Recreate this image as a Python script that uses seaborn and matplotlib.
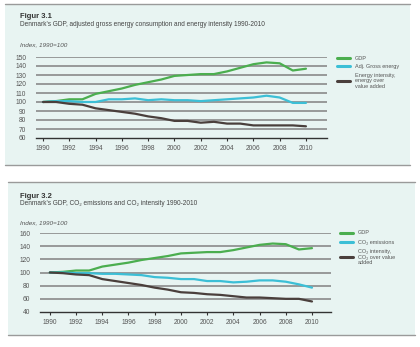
import numpy as np
import pandas as pd
import matplotlib
matplotlib.use("Agg")
import matplotlib.pyplot as plt
import seaborn as sns
from matplotlib.patches import Rectangle
from matplotlib.lines import Line2D

sns.set_style("white")
plt.rcParams['font.family'] = ['Liberation Sans', 'DejaVu Sans']

years = list(range(1990, 2011))
gdp = [100, 101, 103, 103, 109, 112, 115, 119, 122, 125, 129, 130, 131, 131, 134, 138, 142, 144, 143, 135, 137]
adj_gross_energy = [100, 101, 101, 100, 100, 103, 103, 104, 102, 103, 102, 102, 101, 102, 103, 104, 105, 107, 105, 99, 99]
energy_intensity = [100, 100, 98, 97, 93, 91, 89, 87, 84, 82, 79, 79, 77, 78, 76, 76, 74, 74, 74, 74, 73]
co2_emissions = [100, 100, 99, 99, 98, 98, 97, 96, 93, 92, 90, 90, 87, 87, 85, 86, 88, 88, 86, 82, 77]
co2_intensity = [100, 99, 97, 96, 90, 87, 84, 81, 77, 74, 70, 69, 67, 66, 64, 62, 62, 61, 60, 60, 56]

labels1 = ["GDP", "Adj. Gross energy", "Energy intensity,\nenergy over\nvalue added"]
labels2 = ["GDP", "CO\u2082 emissions", "CO\u2082 intensity,\nCO\u2082 over value\nadded"]
titles = ["Figur 3.1", "Figur 3.2"]
subtitles = ["Denmark's GDP, adjusted gross energy consumption and energy intensity 1990-2010",
             "Denmark's GDP, CO\u2082 emissions and CO\u2082 intensity 1990-2010"]
ylabel = "Index, 1990=100"
yticks1 = [60, 70, 80, 90, 100, 110, 120, 130, 140, 150]
yticks2 = [40, 60, 80, 100, 120, 140, 160]
xticks = list(range(1990, 2011, 2))

colors = ["#4bae4f", "#3cbfd6", "#4a3f3c"]
bg = "#e8f4f2"
W, H = 420, 347

fig = plt.figure(figsize=(4.2, 3.47), dpi=100)
fig.patch.set_facecolor("white")

def px(x0, y0, x1, y1):
    return [x0 / W, 1 - y1 / H, (x1 - x0) / W, (y1 - y0) / H]

# panel backgrounds and rules
for (x0, y0, x1, y1) in [(5, 4, 410, 165), (8, 182, 415, 335)]:
    fig.patches.append(Rectangle((x0 / W, 1 - y1 / H), (x1 - x0) / W, (y1 - y0) / H,
                                 transform=fig.transFigure, facecolor=bg, edgecolor="none", zorder=-10))
    for yy in (y0, y1):
        fig.lines.append(Line2D([x0 / W, x1 / W], [1 - yy / H, 1 - yy / H], transform=fig.transFigure,
                                color="#9a9a9a", lw=1.0, zorder=-5))

panels = [
    dict(rect=px(36, 57, 327, 138), series=[gdp, adj_gross_energy, energy_intensity], labels=labels1,
         yticks=yticks1, title_y=16, sub_y=25, idx_y=45, xl=(1989.47, 2011.6), lx=0.026, ly=1.04, ls=0.6),
    dict(rect=px(40, 233, 331, 312), series=[gdp, co2_emissions, co2_intensity], labels=labels2,
         yticks=yticks2, title_y=196, sub_y=203, idx_y=223, xl=(1989.25, 2011.45), lx=0.022, ly=1.06, ls=0.75),
]

for i, p in enumerate(panels):
    ax = fig.add_axes(p["rect"])
    ax.set_zorder(5)
    ax.patch.set_alpha(0)
    df = pd.DataFrame({
        "year": years * 3,
        "value": p["series"][0] + p["series"][1] + p["series"][2],
        "series": sum([[l] * len(years) for l in p["labels"]], []),
    })
    for yv in p["yticks"][1:]:
        ax.axhline(yv, color="#8a8a8a", lw=1.2, zorder=1)
    sns.lineplot(data=df, x="year", y="value", hue="series", palette=colors,
                 hue_order=p["labels"], lw=1.6, ax=ax, legend=False, zorder=3)
    ax.set_xlim(*p["xl"])
    ax.set_ylim(p["yticks"][0], p["yticks"][-1])
    ax.set_yticks(p["yticks"])
    ax.set_xticks(xticks)
    ax.set_xlabel("")
    ax.set_ylabel("")
    for s in ["top", "right", "left"]:
        ax.spines[s].set_visible(False)
    ax.spines["bottom"].set_color("#333333")
    ax.spines["bottom"].set_linewidth(1.0)
    ax.tick_params(axis="x", direction="out", length=2, width=0.8, color="#333333",
                   labelsize=4.8, labelcolor="#555555", pad=3, bottom=True)
    ax.tick_params(axis="y", length=0, labelsize=4.8, labelcolor="#555555", pad=7)
    handles = [Line2D([], [], color=c, lw=2.2) for c in colors]
    ax.legend(handles, p["labels"], loc="upper left", bbox_to_anchor=(1 + p["lx"], p["ly"]),
              frameon=False, fontsize=4.0, handlelength=2.4, handletextpad=0.9,
              labelspacing=p["ls"], labelcolor="#555555", borderaxespad=0)
    fig.text(20 / W, 1 - p["title_y"] / H, titles[i], fontsize=5.5, fontweight="bold",
             color="#333333", va="center")
    fig.text(20 / W, 1 - p["sub_y"] / H, subtitles[i], fontsize=4.7, color="#444444", va="center")
    fig.text(20 / W, 1 - p["idx_y"] / H, ylabel, fontsize=4.6, style="italic",
             color="#555555", va="center")

fig.savefig("out.png", dpi=100)
